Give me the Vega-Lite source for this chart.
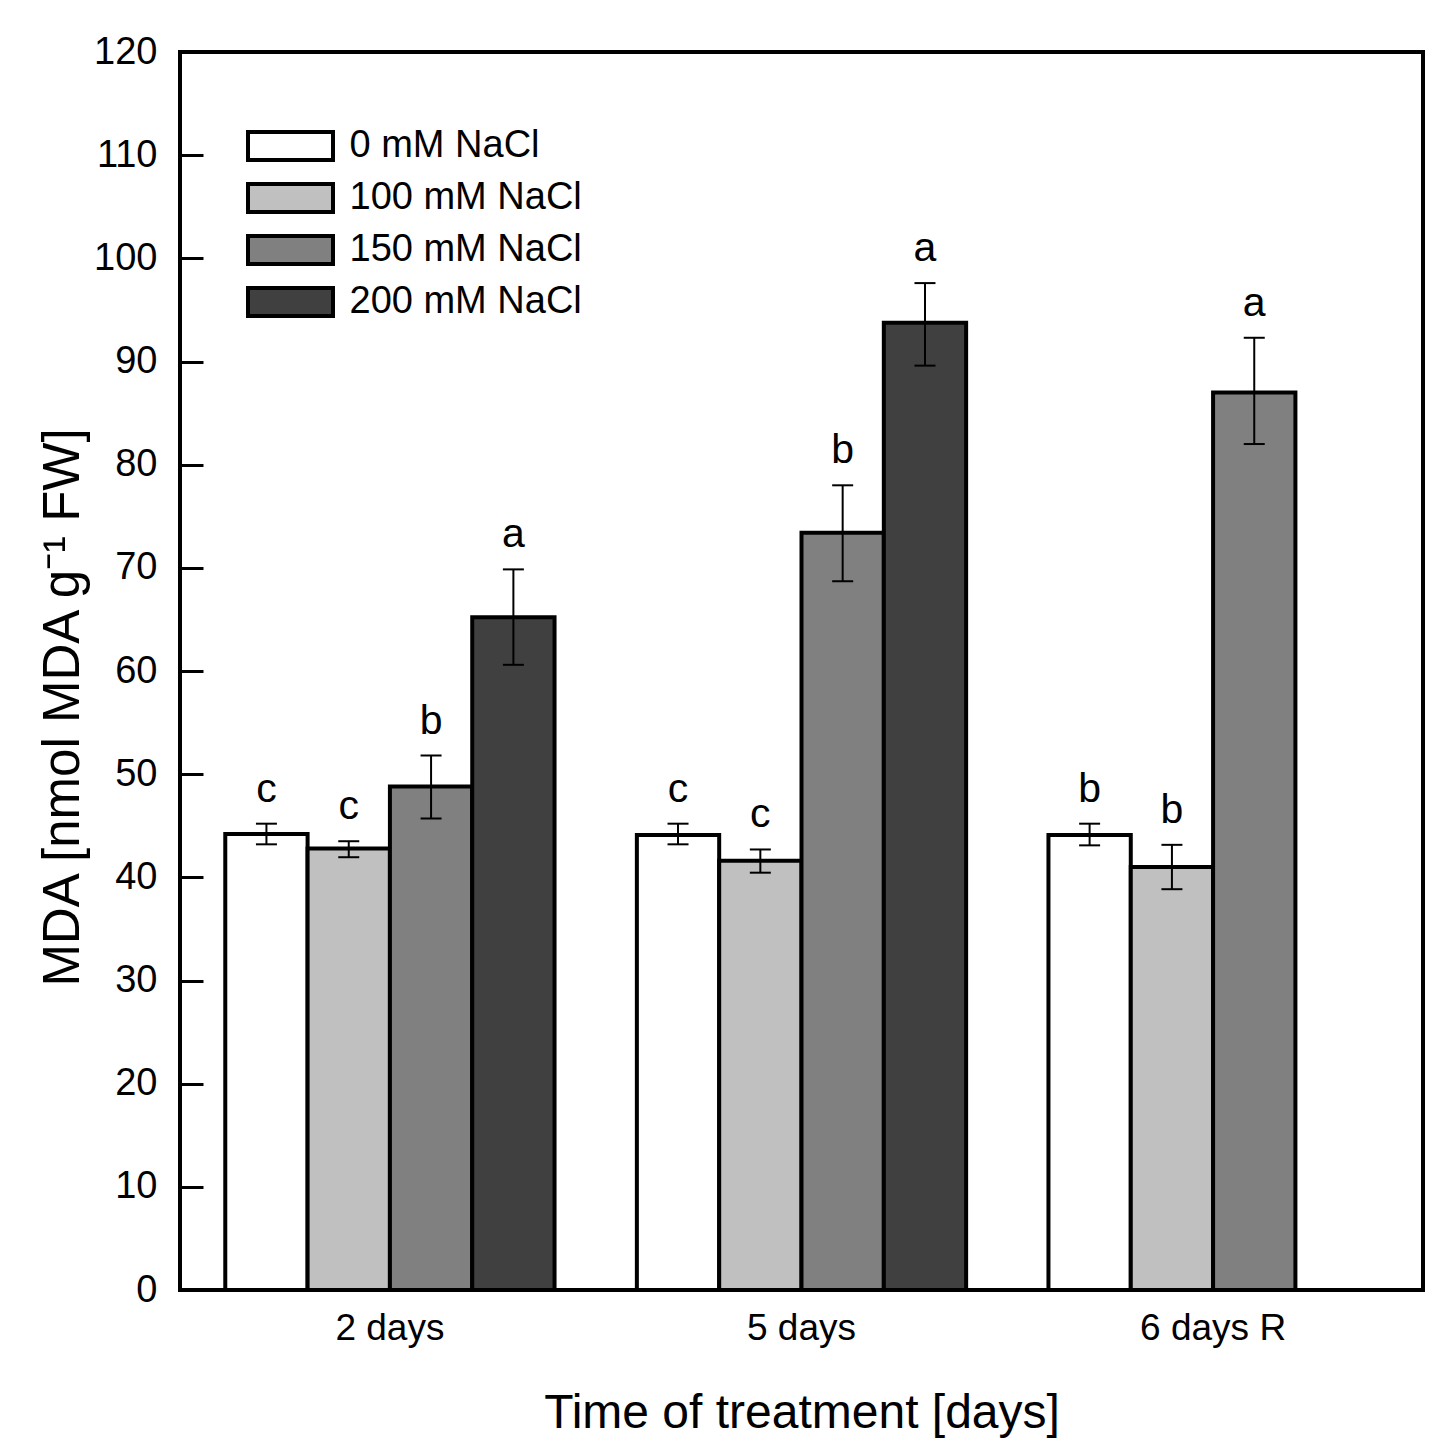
{
  "$schema": "https://vega.github.io/schema/vega-lite/v6.json",
  "width": 1243,
  "height": 1238,
  "autosize": {"type": "none"},
  "padding": {"left": 180, "top": 52, "right": 19, "bottom": 160},
  "background": "white",
  "config": {
    "font": "Liberation Sans",
    "view": {"stroke": "black", "strokeWidth": 4},
    "axis": {"labelColor": "black", "titleColor": "black", "labelFont": "Liberation Sans", "titleFont": "Liberation Sans", "titleFontWeight": "normal", "grid": false}
  },
  "data": {
    "values": [
      {"day": "2 days", "conc": "0 mM NaCl", "mean": 44.2, "lo": 43.2, "hi": 45.2, "letter": "c"},
      {"day": "2 days", "conc": "100 mM NaCl", "mean": 42.8, "lo": 41.95, "hi": 43.5, "letter": "c"},
      {"day": "2 days", "conc": "150 mM NaCl", "mean": 48.8, "lo": 45.7, "hi": 51.8, "letter": "b"},
      {"day": "2 days", "conc": "200 mM NaCl", "mean": 65.2, "lo": 60.6, "hi": 69.85, "letter": "a"},
      {"day": "5 days", "conc": "0 mM NaCl", "mean": 44.1, "lo": 43.2, "hi": 45.2, "letter": "c"},
      {"day": "5 days", "conc": "100 mM NaCl", "mean": 41.6, "lo": 40.45, "hi": 42.7, "letter": "c"},
      {"day": "5 days", "conc": "150 mM NaCl", "mean": 73.4, "lo": 68.7, "hi": 78.0, "letter": "b"},
      {"day": "5 days", "conc": "200 mM NaCl", "mean": 93.75, "lo": 89.6, "hi": 97.6, "letter": "a"},
      {"day": "6 days R", "conc": "0 mM NaCl", "mean": 44.1, "lo": 43.1, "hi": 45.2, "letter": "b"},
      {"day": "6 days R", "conc": "100 mM NaCl", "mean": 41.0, "lo": 38.85, "hi": 43.15, "letter": "b"},
      {"day": "6 days R", "conc": "150 mM NaCl", "mean": 87.0, "lo": 82.0, "hi": 92.3, "letter": "a"}
    ]
  },
  "encoding": {
    "x": {
      "field": "day", "type": "nominal", "sort": ["2 days", "5 days", "6 days R"],
      "scale": {"paddingInner": 0.2, "paddingOuter": 0.11},
      "axis": {"title": "Time of treatment [days]", "labelAngle": 0, "labelFontSize": 37, "labelPadding": 20, "ticks": false, "domain": false, "titleFontSize": 48, "titleBaseline": "alphabetic", "titleY": 137}
    },
    "xOffset": {
      "field": "conc", "type": "nominal", "sort": ["0 mM NaCl", "100 mM NaCl", "150 mM NaCl", "200 mM NaCl"],
      "scale": {"domain": ["0 mM NaCl", "100 mM NaCl", "150 mM NaCl", "200 mM NaCl"], "paddingInner": 0, "paddingOuter": 0}
    }
  },
  "layer": [
    {
      "mark": {"type": "bar", "stroke": "black", "strokeWidth": 4},
      "encoding": {
        "y": {
          "field": "mean", "type": "quantitative",
          "scale": {"domain": [0, 120], "nice": false},
          "axis": {"title": "MDA [nmol MDA g⁻¹ FW]", "values": [0, 10, 20, 30, 40, 50, 60, 70, 80, 90, 100, 110, 120], "tickSize": -23, "tickWidth": 3, "tickColor": "black", "labelPadding": 46, "labelFontSize": 38, "domain": false, "titleFontSize": 51, "titleX": -102, "titleY": 655, "titleBaseline": "alphabetic"}
        },
        "fill": {
          "field": "conc", "type": "nominal",
          "scale": {"domain": ["0 mM NaCl", "100 mM NaCl", "150 mM NaCl", "200 mM NaCl"], "range": ["#ffffff", "#c0c0c0", "#808080", "#404040"]},
          "legend": {"orient": "none", "legendX": 81.5, "legendY": 65, "title": null, "symbolType": "M-1.574,-0.519L1.574,-0.519L1.574,0.519L-1.574,0.519Z", "symbolSize": 2916, "symbolStrokeColor": "black", "symbolStrokeWidth": 4, "symbolOpacity": 1, "labelFontSize": 38, "labelColor": "black", "labelOffset": 30, "rowPadding": 0, "padding": 0, "labelLimit": 0}
        }
      }
    },
    {
      "mark": {"type": "rule", "color": "black", "strokeWidth": 2},
      "encoding": {"y": {"field": "lo", "type": "quantitative"}, "y2": {"field": "hi"}}
    },
    {
      "mark": {"type": "tick", "color": "black", "thickness": 2, "size": 21, "opacity": 1},
      "encoding": {"y": {"field": "hi", "type": "quantitative"}}
    },
    {
      "mark": {"type": "tick", "color": "black", "thickness": 2, "size": 21, "opacity": 1},
      "encoding": {"y": {"field": "lo", "type": "quantitative"}}
    },
    {
      "mark": {"type": "text", "fontSize": 41, "baseline": "alphabetic", "dy": -22, "color": "black"},
      "encoding": {"y": {"field": "hi", "type": "quantitative"}, "text": {"field": "letter"}}
    }
  ]
}
